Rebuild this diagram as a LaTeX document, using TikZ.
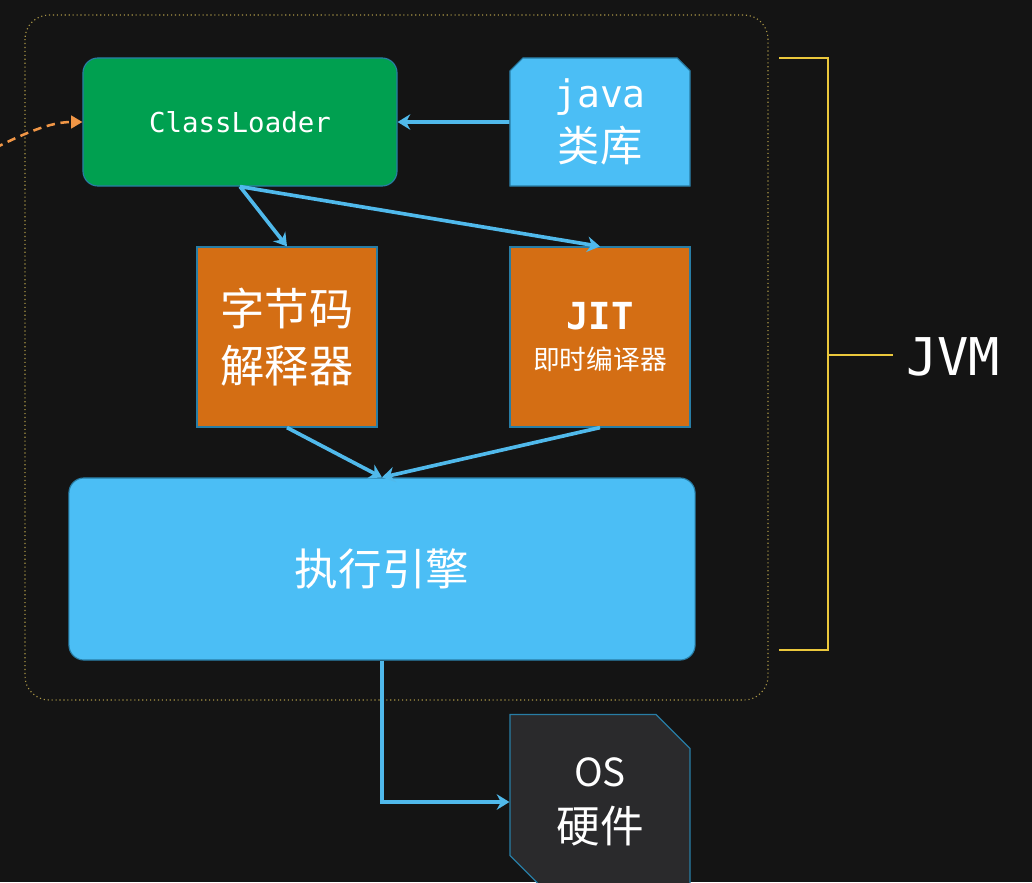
\documentclass[tikz,border=0pt]{standalone}
\usepackage{fontspec}
\setmonofont{DejaVu Sans Mono}
\newfontfamily\cjk{Noto Sans CJK SC}
\definecolor{bgDark}{RGB}{20,20,20}
\definecolor{loaderGreen}{RGB}{0,160,80}
\definecolor{skyBlue}{RGB}{75,190,245}
\definecolor{flowBlue}{RGB}{80,185,235}
\definecolor{edgeBlue}{RGB}{40,125,165}
\definecolor{boxOrange}{RGB}{212,110,20}
\definecolor{osGray}{RGB}{42,42,44}
\definecolor{frameOlive}{RGB}{170,150,70}
\definecolor{braceYellow}{RGB}{235,200,60}
\definecolor{dashOrange}{RGB}{240,150,70}
\usepackage{tikz}
\usetikzlibrary{arrows.meta,shapes.misc}

\begin{document}
\begin{tikzpicture}[
        x=0.025cm, y=-0.025cm,
        box/.style={draw=edgeBlue, line width=0.8pt, text=white, align=center, inner sep=0pt},
        flow/.style={draw=flowBlue, line width=2.6pt, -{Stealth[length=9pt,width=11pt]}},
        brace/.style={draw=braceYellow, line width=1.5pt},
        >=Stealth
      ]
        \useasboundingbox (0,0) rectangle (1032,882);
        \fill[bgDark] (0,0) rectangle (1032,882);

        % JVM frame
        \draw[frameOlive, dotted, line width=0.8pt, rounded corners=0.6cm] (25,15) rectangle (768,700);

        \node[box, fill=loaderGreen, rounded corners=0.375cm, minimum width=7.85cm, minimum height=3.2cm,
          font=\ttfamily\fontsize{19.5}{24}\selectfont] (cl) at (240,122) {ClassLoader};
        \node[box, fill=skyBlue, chamfered rectangle, chamfered rectangle corners={north west,north east},
          chamfered rectangle xsep=0.22cm, minimum width=4.5cm, minimum height=3.2cm,
          font=\cjk\fontsize{30}{36}\selectfont] (java) at (600,122)
          {{\ttfamily\fontsize{27}{36}\selectfont java}\\[2pt]类库};
        \node[box, fill=boxOrange, minimum width=4.5cm, minimum height=4.5cm,
          font=\cjk\fontsize{31.5}{40}\selectfont] (interp) at (287,337) {字节码\\解释器};
        \node[box, fill=boxOrange, minimum width=4.5cm, minimum height=4.5cm,
          font=\cjk\fontsize{19}{24}\selectfont] (jit) at (600,337)
          {{\ttfamily\bfseries\fontsize{26.5}{30}\selectfont JIT}\\[4pt]即时编译器};
        \node[box, fill=skyBlue, rounded corners=0.375cm, minimum width=15.65cm, minimum height=4.55cm,
          font=\cjk\fontsize{31}{36}\selectfont] (engine) at (382,569) {执行引擎};
        \node[box, fill=osGray, chamfered rectangle, chamfered rectangle corners={north east,south west},
          chamfered rectangle xsep=0.75cm, minimum width=4.5cm, minimum height=4.375cm,
          font=\cjk\fontsize{31}{38}\selectfont] (os) at (600,802)
          {{\fontsize{27.5}{36}\selectfont OS}\\[2pt]硬件};
        \node[text=white, font=\ttfamily\fontsize{37}{40}\selectfont] (jvm) at (953,357) {JVM};

        % Flow between parts
        \draw[flow] (java) -- (cl);
        \draw[flow] (cl.south) -- (interp.north);
        \draw[flow] (cl.south) -- (jit.north);
        \draw[flow] (interp.south) -- (engine.north);
        \draw[flow] (jit.south) -- (engine.north);
        \draw[flow] (engine.south) |- (os.west);

        % Incoming class files
        \coordinate (inflow) at (-5,148);
        \draw[dashOrange, line width=1.8pt, dash pattern=on 6pt off 4pt, -{Triangle[length=8pt,width=9pt]}]
          (inflow) .. controls (35,128) and (55,122) .. (cl.west);

        % JVM bracket
        \coordinate (braceTop) at (779,58);
        \coordinate (braceBot) at (779,650);
        \coordinate (braceMid) at (828,355);
        \draw[brace] (braceTop) -- (828,58) -- (828,650) -- (braceBot);
        \draw[brace, shorten >=6pt] (braceMid) -- (braceMid -| jvm.west);
      \end{tikzpicture}
\end{document}
